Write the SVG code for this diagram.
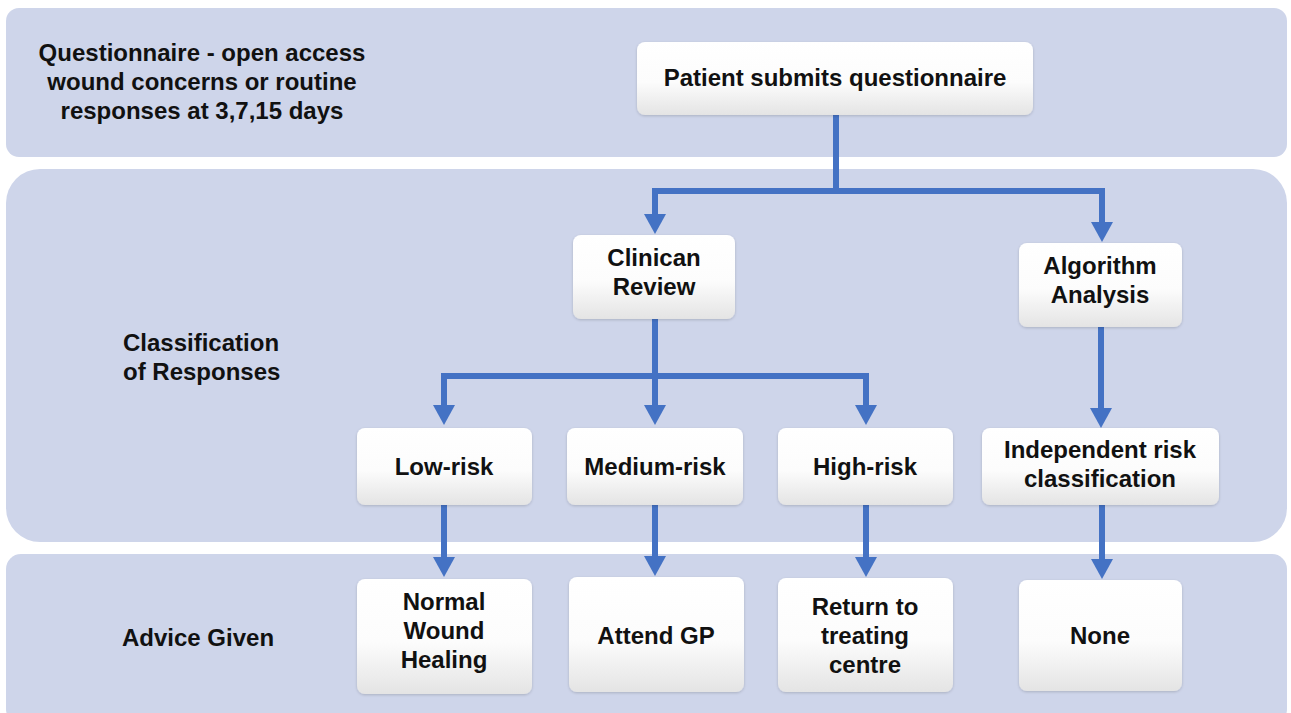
<svg xmlns="http://www.w3.org/2000/svg" width="1291" height="713" viewBox="0 0 1291 713">
  <style>
    .band { fill: #ced5ea; }
    .box { fill: url(#boxFill); filter: url(#soft); }
    .lbl { font-family: "Liberation Sans", Arial, sans-serif; font-weight: bold; font-size: 24px; fill: #111; }
    .mid { text-anchor: middle; }
    .wire { fill: none; stroke: #4472c4; stroke-width: 6; stroke-linejoin: miter; }
    .arrow { marker-end: url(#head); }
  </style>
  <defs>
    <linearGradient id="boxFill" x1="0" y1="0" x2="0" y2="1">
      <stop offset="0" stop-color="#ffffff"/>
      <stop offset="0.55" stop-color="#fcfcfc"/>
      <stop offset="1" stop-color="#e4e4e4"/>
    </linearGradient>
    <filter id="soft" x="-10%" y="-10%" width="120%" height="130%">
      <feGaussianBlur in="SourceAlpha" stdDeviation="1.5"/>
      <feOffset dx="0" dy="1" result="b"/>
      <feComponentTransfer><feFuncA type="linear" slope="0.18"/></feComponentTransfer>
      <feMerge><feMergeNode/><feMergeNode in="SourceGraphic"/></feMerge>
    </filter>
    <marker id="head" viewBox="0 0 20 22" markerWidth="20" markerHeight="22" refX="0" refY="11" orient="auto" markerUnits="userSpaceOnUse">
      <path d="M0,0 L20,11 L0,22 Z" fill="#4472c4"/>
    </marker>
  </defs>

  <!-- swimlane bands -->
  <g id="bands">
    <rect class="band" x="6" y="8" width="1281" height="149" rx="13"/>
    <rect class="band" x="6" y="169" width="1281" height="373" rx="34"/>
    <rect class="band" x="6" y="554" width="1281" height="170" rx="15"/>
  </g>

  <!-- lane titles -->
  <g id="lane-questionnaire">
    <text class="lbl mid" x="202" y="61">Questionnaire - open access</text>
    <text class="lbl mid" x="202" y="90">wound concerns or routine</text>
    <text class="lbl mid" x="202" y="119">responses at 3,7,15 days</text>
  </g>
  <g id="lane-classification">
    <text class="lbl" x="123" y="351">Classification</text>
    <text class="lbl" x="123" y="380">of Responses</text>
  </g>
  <g id="lane-advice">
    <text class="lbl" x="122" y="646">Advice Given</text>
  </g>

  <!-- connectors -->
  <g id="connectors">
    <path class="wire" d="M836,115 V191"/>
    <path class="wire arrow" d="M836,191 H655 V214"/>
    <path class="wire arrow" d="M836,191 H1102 V222"/>
    <path class="wire" d="M655,319 V376"/>
    <path class="wire arrow" d="M655,376 H444 V405"/>
    <path class="wire arrow" d="M655,376 V405"/>
    <path class="wire arrow" d="M655,376 H866 V405"/>
    <path class="wire arrow" d="M1101,327 V408"/>
    <path class="wire arrow" d="M444,505 V557"/>
    <path class="wire arrow" d="M655,505 V556"/>
    <path class="wire arrow" d="M866,505 V557"/>
    <path class="wire arrow" d="M1102,505 V559"/>
  </g>

  <!-- nodes -->
  <g id="patient-submits">
    <rect class="box" x="637" y="42" width="396" height="73" rx="8"/>
    <text class="lbl mid" x="835" y="86">Patient submits questionnaire</text>
  </g>
  <g id="clinician-review">
    <rect class="box" x="573" y="235" width="162" height="84" rx="8"/>
    <text class="lbl mid" x="654" y="266">Clinican</text>
    <text class="lbl mid" x="654" y="295">Review</text>
  </g>
  <g id="algorithm-analysis">
    <rect class="box" x="1019" y="243" width="163" height="84" rx="8"/>
    <text class="lbl mid" x="1100" y="274">Algorithm</text>
    <text class="lbl mid" x="1100" y="303">Analysis</text>
  </g>
  <g id="low-risk">
    <rect class="box" x="357" y="428" width="175" height="77" rx="8"/>
    <text class="lbl mid" x="444" y="475">Low-risk</text>
  </g>
  <g id="medium-risk">
    <rect class="box" x="567" y="428" width="176" height="77" rx="8"/>
    <text class="lbl mid" x="655" y="475">Medium-risk</text>
  </g>
  <g id="high-risk">
    <rect class="box" x="778" y="428" width="175" height="77" rx="8"/>
    <text class="lbl mid" x="865" y="475">High-risk</text>
  </g>
  <g id="independent-risk">
    <rect class="box" x="982" y="428" width="237" height="77" rx="8"/>
    <text class="lbl mid" x="1100" y="458">Independent risk</text>
    <text class="lbl mid" x="1100" y="487">classification</text>
  </g>
  <g id="normal-healing">
    <rect class="box" x="357" y="579" width="175" height="115" rx="8"/>
    <text class="lbl mid" x="444" y="610">Normal</text>
    <text class="lbl mid" x="444" y="639">Wound</text>
    <text class="lbl mid" x="444" y="668">Healing</text>
  </g>
  <g id="attend-gp">
    <rect class="box" x="569" y="577" width="175" height="115" rx="8"/>
    <text class="lbl mid" x="656" y="644">Attend GP</text>
  </g>
  <g id="return-centre">
    <rect class="box" x="778" y="578" width="175" height="114" rx="8"/>
    <text class="lbl mid" x="865" y="615">Return to</text>
    <text class="lbl mid" x="865" y="644">treating</text>
    <text class="lbl mid" x="865" y="673">centre</text>
  </g>
  <g id="none">
    <rect class="box" x="1019" y="580" width="163" height="111" rx="8"/>
    <text class="lbl mid" x="1100" y="644">None</text>
  </g>
</svg>
